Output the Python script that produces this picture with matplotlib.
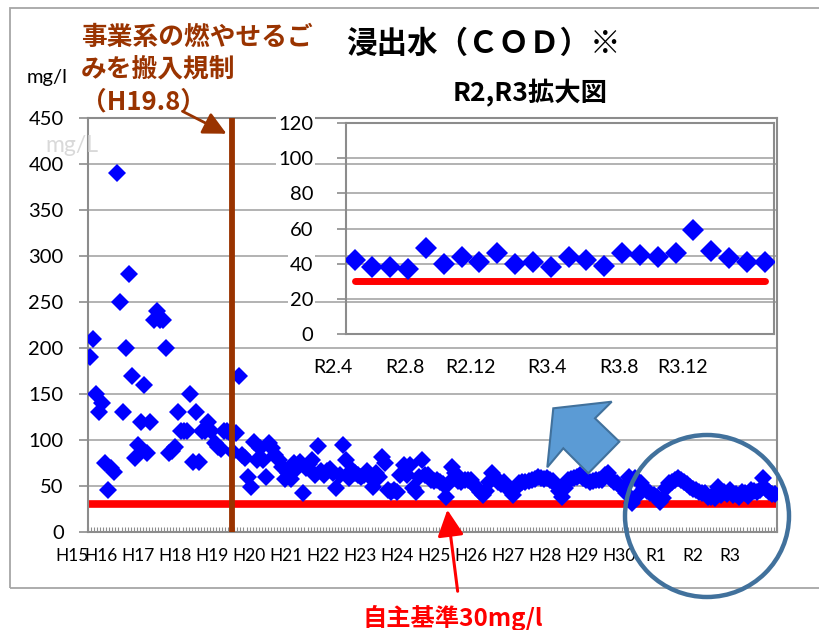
import numpy as np
import matplotlib
matplotlib.use('Agg')
import matplotlib.pyplot as plt
from matplotlib import patches, transforms

# ---------------- data ----------------
# COD of leachate, monthly, H15.4 .. H19.7 (before regulation)
early_cod = [190, 210, 150, 130, 140, 75, 46, 70, 65, 390,
             250, 130, 200, 280, 170, 80, 95, 120, 160, 86,
             120, 230, 240, 230, 230, 200, 86, 88, 92, 130,
             110, 110, 110, 150, 76, 130, 76, 110, 110, 120,
             110, 97, 92, 90, 110, 110, 108, 87]
# H19.8 .. R2.3
mid_cod = [108, 170, 84, 80, 60, 49, 98, 78, 91, 78,
           60, 97, 91, 84, 78, 71, 58, 64, 58, 75,
           70, 76, 42, 70, 74, 78, 62, 93, 66, 62,
           66, 68, 64, 48, 62, 95, 78, 59, 67, 64,
           62, 60, 62, 66, 60, 49, 64, 60, 82, 75,
           46, 44, 46, 44, 62, 73, 62, 73, 48, 44,
           60, 78, 62, 62, 57, 55, 57, 54, 52, 38,
           53, 71, 64, 55, 54, 56, 57, 57, 51, 48,
           43, 40, 45, 54, 64, 60, 54, 52, 54, 49,
           45, 40, 48, 53, 54, 54, 55, 57, 58, 60,
           59, 58, 59, 57, 55, 51, 45, 38, 48, 57,
           58, 59, 60, 62, 59, 57, 54, 55, 57, 56,
           57, 62, 64, 58, 54, 53, 50, 48, 42, 60,
           31, 59, 40, 53, 48, 45, 42, 40, 38, 33,
           37, 48, 53, 54, 56, 59, 56, 54, 52, 49,
           47, 46, 44, 42]
# R2.4 .. R4.3 (enlarged inset)
recent_cod = [42, 38, 38, 37, 49, 40, 44, 41, 46, 40, 41, 38,
              44, 42, 39, 46, 45, 44, 46, 59, 47, 43, 41, 41]
standard = 30  # 自主基準 mg/l

main_yticks = [0, 50, 100, 150, 200, 250, 300, 350, 400, 450]
inset_yticks = [0, 20, 40, 60, 80, 100, 120]
year_labels = ['H15', 'H16', 'H17', 'H18', 'H19', 'H20', 'H21', 'H22', 'H23',
               'H24', 'H25', 'H26', 'H27', 'H28', 'H29', 'H30', 'R1', 'R2', 'R3']
inset_labels = ['R2.4', 'R2.8', 'R2.12', 'R3.4', 'R3.8', 'R3.12']

# ---------------- layout helpers ----------------
W, H = 819, 630
plt.rcParams['font.family'] = ['Lato', 'DejaVu Sans']
cjk = ['Noto Sans CJK JP', 'DejaVu Sans']
fig = plt.figure(figsize=(W / 100, H / 100), dpi=100)
fig.patch.set_facecolor('white')


def fx(x):
    return x / W


def fy(y):
    return 1 - y / H


grid_c = '#A6A6A6'
spine_c = '#8C8C8C'
blue = '#0000FF'
brown = '#993300'

cod = early_cod + mid_cod + recent_cod
months = np.arange(len(cod))
regulation_x = 46.7
year_pos = [-5.75] + [3.9 + 12.12 * k for k in range(len(year_labels) - 1)]

# ---------------- main axes ----------------
ax = fig.add_axes([fx(88), fy(532), 689 / W, 414 / H])
ax.set_xlim(-0.5, len(cod) - 0.5)
ax.set_ylim(0, 450)
ax.set_yticks(main_yticks)
ax.yaxis.grid(True, color=grid_c, lw=1.2)
ax.set_axisbelow(True)
for s in ax.spines.values():
    s.set_color(spine_c)
    s.set_linewidth(1.5)
ax.tick_params(axis='y', length=6.5, color=spine_c, width=1.2, pad=11,
               labelsize=14.5)
ax.set_xticks(np.arange(-0.5, len(cod), 1.0))
ax.set_xticklabels([])
ax.tick_params(axis='x', direction='in', length=3.5, color=spine_c, width=0.8)

ax.plot([-0.5, len(cod) - 0.5], [standard, standard], color='#FF0000',
        lw=5.5, solid_capstyle='butt', zorder=2)
ax.plot(months, cod, ls='none', marker='D', ms=9, mew=0, color=blue,
        zorder=3)
ax.axvline(regulation_x, ymin=0, ymax=0.995, color=brown, lw=4.2, zorder=4)

bt = transforms.blended_transform_factory(ax.transData, ax.transAxes)
for p, lab in zip(year_pos, year_labels):
    ax.text(p, -0.058, lab, transform=bt, ha='center', va='center',
            fontsize=12.5, clip_on=False)

# ---------------- inset axes ----------------
ax2 = fig.add_axes([fx(345.7), fy(334.3), 428 / W, 211.6 / H])
ax2.set_facecolor('none')
n = len(recent_cod)
ax2.set_xlim(-0.5, n - 0.5)
ax2.set_ylim(0, 120)
ax2.set_yticks(inset_yticks)
ax2.yaxis.grid(True, color=grid_c, lw=1.2)
ax2.set_axisbelow(True)
ax2.set_xticks([])
for s in ax2.spines.values():
    s.set_color(spine_c)
    s.set_linewidth(1.5)
ax2.tick_params(axis='y', length=6.5, color=spine_c, width=1.2, pad=17,
                labelsize=14.5)
for lbl in ax2.get_yticklabels():
    lbl.set_bbox(dict(facecolor='white', edgecolor='none', pad=1.5))
ax2.plot(np.arange(n), [standard] * n, color='#FF0000', lw=5,
         solid_capstyle='round', zorder=2)
ax2.plot(np.arange(n), recent_cod, ls='none', marker='D', ms=11, mew=0,
         color=blue, zorder=3)
inset_pos = [-1.2, 2.8, 6.5, 10.8, 14.8, 18.4]
bt2 = transforms.blended_transform_factory(ax2.transData, ax2.transAxes)
for p, lab in zip(inset_pos, inset_labels):
    ax2.text(p, -0.155, lab, transform=bt2, ha='center', va='center',
             fontsize=14, clip_on=False)

# ---------------- texts ----------------
fig.text(fx(346), fy(44), '浸出水（ＣＯＤ）※', fontsize=22, fontweight='bold',
         family=cjk, ha='left', va='center')
fig.text(fx(453), fy(93), 'R2,R3拡大図', fontsize=19, fontweight='bold',
         family=cjk, ha='left', va='center')
for txt, yy in [('事業系の燃やせるご', 37), ('みを搬入規制', 69),
                ('（H19.8）', 102)]:
    fig.text(fx(81), fy(yy), txt, fontsize=18.5, fontweight='bold',
             family=cjk, color=brown, ha='left', va='center')
fig.text(fx(27), fy(77), 'mg/l', fontsize=14.5, ha='left', va='center')
fig.text(fx(45), fy(145), 'mg/L', fontsize=16.5, color='#D9D9D9', ha='left',
         va='center', zorder=10)
fig.text(fx(362), fy(618), '自主基準30mg/l', fontsize=17.5, fontweight='bold',
         family=cjk, color='#FF0000', ha='left', va='center')

# ---------------- shapes ----------------
fig.add_artist(patches.FancyArrowPatch(
    (fx(180), fy(110)), (fx(229), fy(135)), transform=fig.transFigure,
    arrowstyle='-|>,head_length=0.7,head_width=0.35', mutation_scale=20,
    color=brown, lw=2))
fig.add_artist(patches.FancyArrowPatch(
    (fx(458), fy(594)), (fx(447), fy(507)), transform=fig.transFigure,
    arrowstyle='-|>,head_length=0.8,head_width=0.4', mutation_scale=20,
    color='#FF0000', lw=2.2))

arrow_pts = [(553.3, 408.3), (611.7, 401.7), (595, 418.3), (619.3, 441.7),
             (588.3, 473.3), (563.3, 448.3), (547.3, 467.3)]
fig.add_artist(patches.Polygon([(fx(a), fy(b)) for a, b in arrow_pts],
                               closed=True, transform=fig.transFigure,
                               facecolor='#5B9BD5', edgecolor='#41719C',
                               lw=1.5))
fig.add_artist(patches.Ellipse((fx(707), fy(516)), 164 / W, 162 / H,
                               transform=fig.transFigure, fill=False,
                               edgecolor='#41719C', lw=3.2))
fig.add_artist(patches.Rectangle((fx(10), fy(588)), 830 / W, 580 / H,
                                 transform=fig.transFigure, fill=False,
                                 edgecolor='#A6A6A6', lw=1.3, zorder=0))

fig.savefig('out.png', dpi=100)
